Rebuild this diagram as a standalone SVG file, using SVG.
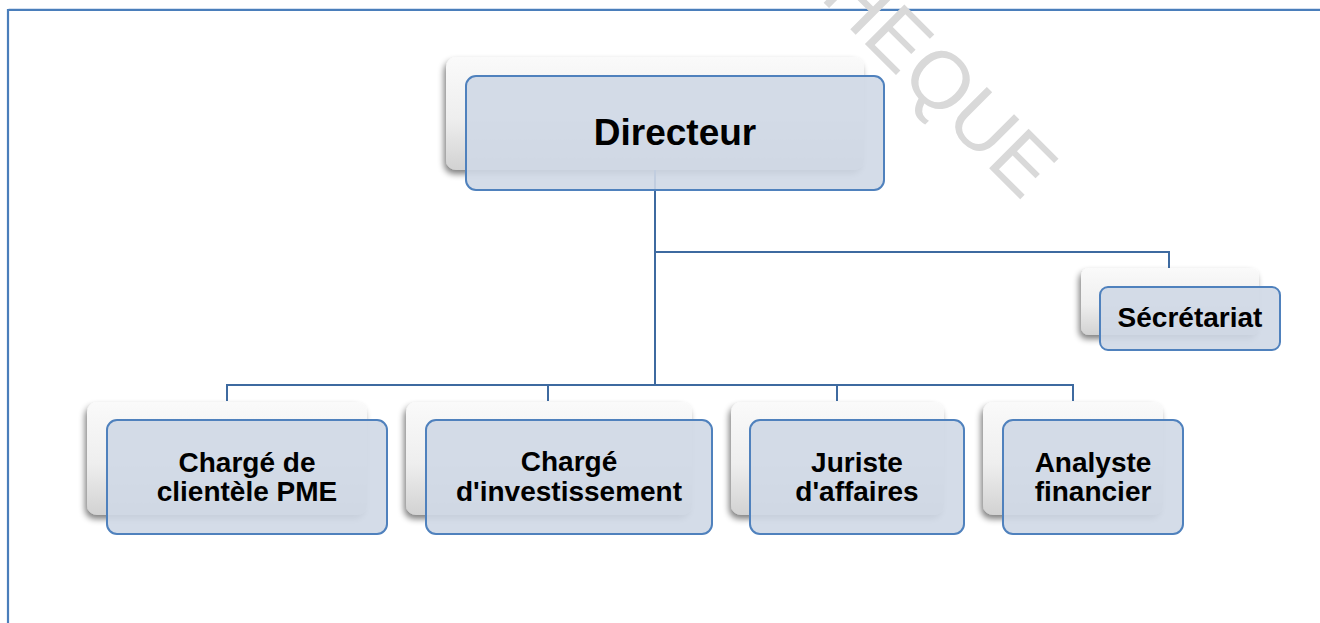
<svg xmlns="http://www.w3.org/2000/svg" width="1320" height="623" viewBox="0 0 1320 623">
  <defs>
    <linearGradient id="backGrad" x1="0" y1="0" x2="0" y2="1">
      <stop offset="0" stop-color="#fafafa"/>
      <stop offset="0.55" stop-color="#eeeeee"/>
      <stop offset="1" stop-color="#d2d2d2"/>
    </linearGradient>
    <filter id="shadow" x="-10%" y="-10%" width="120%" height="130%">
      <feGaussianBlur in="SourceAlpha" stdDeviation="3"/>
      <feOffset dx="-2" dy="4" result="b"/>
      <feComponentTransfer><feFuncA type="linear" slope="0.5"/></feComponentTransfer>
      <feMerge><feMergeNode/><feMergeNode in="SourceGraphic"/></feMerge>
    </filter>
    <style>
      .back { fill: url(#backGrad); filter: url(#shadow); }
      .front { fill: #cfd8e6; fill-opacity: 0.9; stroke: #4f81bd; stroke-width: 2; }
      .lbl { font-family: "Liberation Sans", Arial, sans-serif; font-weight: bold; fill: #000; text-anchor: middle; }
      .conn { fill: none; stroke: #3e6aa0; stroke-width: 2; }
      .wm { font-family: "Liberation Sans", Arial, sans-serif; font-size: 81px; fill: #d9d9d9; }
    </style>
  </defs>

  <rect width="1320" height="623" fill="#ffffff"/>

  <!-- page frame -->
  <g id="frame">
    <path d="M8.5,623 V9 H1320" fill="none" stroke="#a9c1e0" stroke-width="1"/>
    <path d="M8,623 V10 H1320" fill="none" stroke="#4a7ebb" stroke-width="2.2"/>
  </g>

  <!-- watermark -->
  <g id="watermark">
    <text class="wm" transform="translate(819,-2) rotate(45)" x="0" y="0">HEQUE</text>
  </g>

  <!-- back (shadow) boxes -->
  <g id="node-backs">
    <rect class="back" x="446" y="57" width="418" height="113" rx="10"/>
    <rect class="back" x="1081" y="268" width="178" height="67" rx="8"/>
    <rect class="back" x="87" y="402" width="280" height="113" rx="10"/>
    <rect class="back" x="406" y="402" width="286" height="113" rx="10"/>
    <rect class="back" x="731" y="402" width="213" height="113" rx="10"/>
    <rect class="back" x="983" y="402" width="180" height="113" rx="10"/>
  </g>

  <!-- connectors -->
  <g id="connectors">
    <path class="conn" d="M655,170 V385"/>
    <path class="conn" d="M655,252 H1169 V268"/>
    <path class="conn" d="M227,401 V385 H1073 V401"/>
    <path class="conn" d="M548,385 V401"/>
    <path class="conn" d="M837,385 V401"/>
  </g>

  <g id="node-directeur">
    <rect class="front" x="466" y="76" width="418" height="114" rx="10"/>
    <text class="lbl" x="675" y="145" font-size="37">Directeur</text>
  </g>

  <g id="node-secretariat">
    <rect class="front" x="1100" y="287" width="180" height="63" rx="8"/>
    <text class="lbl" x="1190" y="327" font-size="28">Sécrétariat</text>
  </g>

  <g id="node-charge-clientele">
    <rect class="front" x="107" y="420" width="280" height="114" rx="10"/>
    <text class="lbl" x="247" y="472" font-size="28">Chargé de</text>
    <text class="lbl" x="247" y="501" font-size="28">clientèle PME</text>
  </g>

  <g id="node-charge-investissement">
    <rect class="front" x="426" y="420" width="286" height="114" rx="10"/>
    <text class="lbl" x="569" y="471" font-size="28">Chargé</text>
    <text class="lbl" x="569" y="501" font-size="28">d'investissement</text>
  </g>

  <g id="node-juriste">
    <rect class="front" x="750" y="420" width="214" height="114" rx="10"/>
    <text class="lbl" x="857" y="472" font-size="28">Juriste</text>
    <text class="lbl" x="857" y="501" font-size="28">d'affaires</text>
  </g>

  <g id="node-analyste">
    <rect class="front" x="1003" y="420" width="180" height="114" rx="10"/>
    <text class="lbl" x="1093" y="472" font-size="28">Analyste</text>
    <text class="lbl" x="1093" y="501" font-size="28">financier</text>
  </g>
</svg>
